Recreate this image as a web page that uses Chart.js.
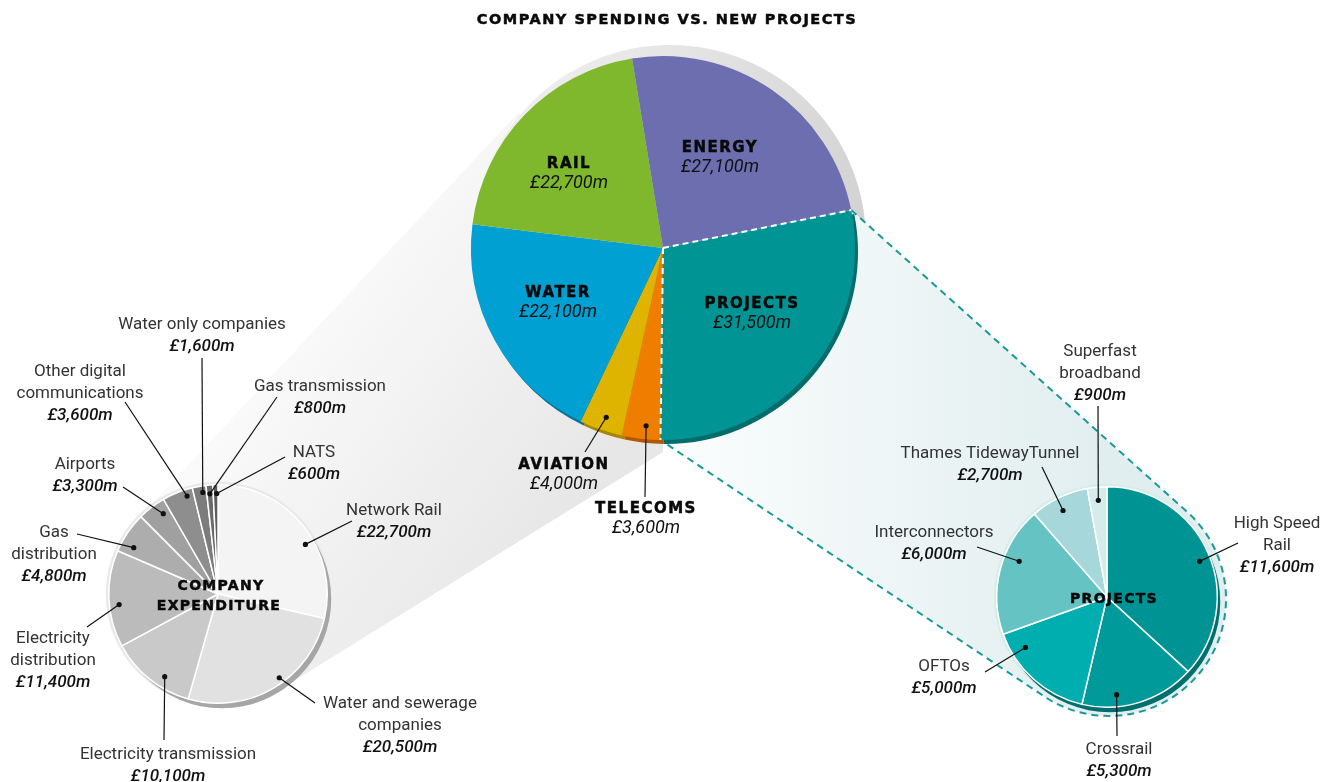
<!DOCTYPE html>
<html>
<head>
<meta charset="utf-8">
<script src="https://cdn.jsdelivr.net/npm/chart.js@4.4.1/dist/chart.umd.min.js"></script>
<style>
html, body { margin: 0; padding: 0; background: #fff; }
#stage { position: relative; width: 1337px; height: 782px; overflow: hidden; }
#stage canvas { position: absolute; left: 0; top: 0; }
.lbl { position: absolute; transform: translate(-50%, -50%); white-space: nowrap; line-height: 1;
       font-family: Roboto, "Liberation Sans", sans-serif; font-size: 17px; color: #333; }
.val { font-style: italic; font-weight: 500; color: #111; }
.cap { font-family: "DejaVu Sans", sans-serif; font-weight: bold; font-size: 15px; letter-spacing: 1.5px;
       color: #0a0a0a; -webkit-text-stroke: 0.5px #0a0a0a; }
.mval { font-style: italic; font-weight: 400; color: #111; font-size: 18px; }
</style>
</head>
<body>
<div id="stage">
  <canvas id="mainPie" width="1337" height="782"></canvas>
  <canvas id="leftPie" width="1337" height="782"></canvas>
  <canvas id="rightPie" width="1337" height="782"></canvas>
  <div id="labels"></div>
</div>
<script>
const W = 1337, H = 782;

// values, £m
const mainLabels = ['PROJECTS', 'TELECOMS', 'AVIATION', 'WATER', 'RAIL', 'ENERGY'];
const mainValues = [31500, 3600, 4000, 22100, 22700, 27100];

const companyLabels = ['Network Rail', 'Water and sewerage companies', 'Electricity transmission',
    'Electricity distribution', 'Gas distribution', 'Airports', 'Other digital communications',
    'Water only companies', 'Gas transmission', 'NATS'];
const companyValues = [22700, 20500, 10100, 11400, 4800, 3300, 3600, 1600, 800, 600];

const projectLabels = ['High Speed Rail', 'Crossrail', 'OFTOs', 'Interconnectors',
    'Thames TidewayTunnel', 'Superfast broadband'];
const projectValues = [11600, 5300, 5000, 6000, 2700, 900];

// styling
const mainColors = ['#009494', '#ee7d00', '#dfb400', '#00a0d2', '#7fb82c', '#6c6eb0'];
const mainEdge = ['#006c6c', '#b05800', '#a88500', '#0b6f96'];
const companyColors = ['#f4f4f4', '#e1e1e1', '#c9c9c9', '#bbbbbb', '#adadad', '#a0a0a0',
    '#8e8e8e', '#7c7c7c', '#6b6b6b', '#5b5b5b'];
const projectColors = ['#009393', '#009a9a', '#00adaf', '#66c3c4', '#a6d7da', '#d6ecec'];

const MAIN = { cx: 663, cy: 248, r: 192, rotation: 78.6 };
const LEFT = { cx: 218, cy: 594, r: 110, rotation: 0 };
const RIGHT = { cx: 1107, cy: 597, r: 111, rotation: 0 };

// label layout: text centre, leader dot (fraction of slice angle, fraction of radius), leader end
const mainLayout = [
    { x: 752, y: 303 },
    { x: 646, y: 508, dot: [0.4, 0.93], end: [645, 497] },
    { x: 564, y: 464, dot: [0.47, 0.93], end: [585, 452] },
    { x: 558, y: 292 },
    { x: 569, y: 163 },
    { x: 720, y: 147 },
];
const companyLayout = [
    { x: 394, y: 509, dot: [0.587, 0.92], end: [352, 521] },
    { x: 400, y: 702, br: [3], dot: [0.44, 0.95], end: [315, 703] },
    { x: 168, y: 753, dot: [0.37, 0.9], end: [164, 740] },
    { x: 53, y: 637, br: [1], dot: [0.43, 0.91], end: [87, 627] },
    { x: 54, y: 531, br: [1], dot: [0.25, 0.88], end: [77, 534] },
    { x: 85, y: 463, dot: [0.71, 0.89], end: [123, 487] },
    { x: 80, y: 370, br: [2], dot: [0.76, 0.94], end: [125, 402] },
    { x: 202, y: 323, dot: [0.7, 0.94], end: [202, 358] },
    { x: 320, y: 385, dot: [0.47, 0.92], end: [277, 397] },
    { x: 314, y: 451, dot: [0.74, 0.92], end: [285, 457] },
];
const projectLayout = [
    { x: 1277, y: 522, br: [2], dot: [0.52, 0.9], end: [1238, 543] },
    { x: 1119, y: 748, dot: [0.69, 0.89], end: [1117, 736] },
    { x: 944, y: 665, dot: [0.79, 0.87], end: [985, 672] },
    { x: 934, y: 531, dot: [0.61, 0.86], end: [977, 547] },
    { x: 990, y: 452, dot: [0.46, 0.88], end: [1042, 467] },
    { x: 1100, y: 350, br: [1], dot: [0.5, 0.88], end: [1098, 406] },
];

const fmt = v => '£' + v.toLocaleString('en-GB') + 'm';

function arcPoint(arc, f, rf) {
    const a = arc.startAngle + f * (arc.endAngle - arc.startAngle);
    return { x: arc.x + Math.cos(a) * arc.outerRadius * rf, y: arc.y + Math.sin(a) * arc.outerRadius * rf };
}

function leaders(layout) {
    return {
        id: 'leaders',
        afterDatasetsDraw(chart) {
            const ctx = chart.ctx;
            const arcs = chart.getDatasetMeta(0).data;
            ctx.save();
            ctx.strokeStyle = '#111';
            ctx.fillStyle = '#111';
            ctx.lineWidth = 1.2;
            layout.forEach((l, i) => {
                if (!l.dot) return;
                const p = arcPoint(arcs[i], l.dot[0], l.dot[1]);
                ctx.beginPath();
                ctx.moveTo(p.x, p.y);
                ctx.lineTo(l.end[0], l.end[1]);
                ctx.stroke();
                ctx.beginPath();
                ctx.arc(p.x, p.y, 2.6, 0, Math.PI * 2);
                ctx.fill();
            });
            ctx.restore();
        }
    };
}

function disc(ctx, x, y, r, fill) {
    ctx.beginPath();
    ctx.arc(x, y, r, 0, Math.PI * 2);
    ctx.fillStyle = fill;
    ctx.fill();
}

// connectors, shadow and extrusion behind the central pie
const mainBackdrop = {
    id: 'backdrop',
    beforeDatasetsDraw(chart) {
        const ctx = chart.ctx;
        const arcs = chart.getDatasetMeta(0).data;
        const c = { x: arcs[0].x, y: arcs[0].y };
        const R = arcs[0].outerRadius;
        ctx.save();

        // grey funnel towards the company pie
        const r2 = R + 6;
        const th = Math.atan2(c.y - LEFT.cy, c.x - LEFT.cx);
        const D = Math.hypot(c.x - LEFT.cx, c.y - LEFT.cy);
        const n = th - Math.acos((LEFT.r - r2) / D);
        const lu = { x: LEFT.cx + LEFT.r * Math.cos(n), y: LEFT.cy + LEFT.r * Math.sin(n) };
        const mu = { x: c.x + r2 * Math.cos(n), y: c.y + r2 * Math.sin(n) };
        const b = { x: c.x, y: c.y + R + 12 };
        const lr = LEFT.r + 4;
        const phi = Math.atan2(b.y - LEFT.cy, b.x - LEFT.cx);
        const tb = phi + Math.acos(lr / Math.hypot(b.x - LEFT.cx, b.y - LEFT.cy));
        const ll = { x: LEFT.cx + lr * Math.cos(tb), y: LEFT.cy + lr * Math.sin(tb) };
        let g = ctx.createLinearGradient(c.x - 360, c.y, c.x - 60, c.y + 220);
        g.addColorStop(0, '#fcfcfc');
        g.addColorStop(1, '#e7e7e7');
        ctx.beginPath();
        ctx.moveTo(lu.x, lu.y);
        ctx.lineTo(mu.x, mu.y);
        ctx.lineTo(c.x, c.y);
        ctx.lineTo(b.x, b.y);
        ctx.lineTo(ll.x, ll.y);
        ctx.lineTo(LEFT.cx, LEFT.cy);
        ctx.closePath();
        ctx.fillStyle = g;
        ctx.fill();

        // grey shadow of the main pie
        g = ctx.createLinearGradient(c.x - 150, c.y - 150, c.x + 190, c.y);
        g.addColorStop(0, '#efefef');
        g.addColorStop(1, '#d2d2d2');
        disc(ctx, c.x + 7, c.y - 7, R + 4, g);

        // teal funnel towards the projects pie
        const p1 = { x: c.x + R * Math.cos(arcs[0].startAngle), y: c.y + R * Math.sin(arcs[0].startAngle) };
        const p2 = { x: c.x + R * Math.cos(arcs[0].endAngle), y: c.y + R * Math.sin(arcs[0].endAngle) };
        const C2 = { x: RIGHT.cx + 2, y: RIGHT.cy + 2 };
        const R2 = RIGHT.r + 6;
        const f1 = Math.atan2(p1.y - C2.y, p1.x - C2.x);
        let t1 = f1 + Math.acos(R2 / Math.hypot(p1.x - C2.x, p1.y - C2.y));
        const f2 = Math.atan2(p2.y - C2.y, p2.x - C2.x);
        let t2 = f2 - Math.acos(R2 / Math.hypot(p2.x - C2.x, p2.y - C2.y));
        while (t2 < t1) t2 += Math.PI * 2;
        g = ctx.createLinearGradient(c.x, 0, RIGHT.cx, 0);
        g.addColorStop(0, '#fbfdfd');
        g.addColorStop(1, '#e1eeef');
        ctx.beginPath();
        ctx.moveTo(c.x, c.y);
        ctx.lineTo(p1.x, p1.y);
        ctx.arc(C2.x, C2.y, R2, t1, t2, false);
        ctx.lineTo(p2.x, p2.y);
        ctx.closePath();
        ctx.fillStyle = g;
        ctx.fill();

        ctx.beginPath();
        ctx.moveTo(p1.x, p1.y);
        ctx.arc(C2.x, C2.y, R2, t1, t2, false);
        ctx.lineTo(p2.x, p2.y);
        ctx.setLineDash([7, 5]);
        ctx.lineWidth = 2;
        ctx.strokeStyle = '#17999a';
        ctx.stroke();
        ctx.setLineDash([]);

        // darker extrusion under the lower slices
        mainEdge.forEach((col, i) => {
            const a = arcs[i];
            ctx.beginPath();
            ctx.moveTo(a.x + 3, a.y + 4);
            ctx.arc(a.x + 3, a.y + 4, a.outerRadius, a.startAngle, a.endAngle);
            ctx.closePath();
            ctx.fillStyle = col;
            ctx.fill();
        });
        ctx.restore();
    },
    afterDatasetsDraw(chart) {
        const ctx = chart.ctx;
        const a = chart.getDatasetMeta(0).data[0];
        ctx.save();
        ctx.strokeStyle = '#fff';
        ctx.lineWidth = 2;
        ctx.setLineDash([6, 4]);
        [a.startAngle, a.endAngle].forEach(t => {
            ctx.beginPath();
            ctx.moveTo(a.x, a.y);
            ctx.lineTo(a.x + a.outerRadius * Math.cos(t), a.y + a.outerRadius * Math.sin(t));
            ctx.stroke();
        });
        ctx.restore();
    }
};

function sideBackdrop(ring, shade, off) {
    return {
        id: 'sideBackdrop',
        beforeDatasetsDraw(chart) {
            const a = chart.getDatasetMeta(0).data[0];
            const ctx = chart.ctx;
            ctx.save();
            disc(ctx, a.x, a.y, a.outerRadius + 3, ring);
            disc(ctx, a.x + off[0], a.y + off[1], a.outerRadius, shade);
            ctx.restore();
        }
    };
}

function makePie(id, geo, labels, values, colors, border, plugins) {
    return new Chart(document.getElementById(id), {
        type: 'pie',
        data: {
            labels: labels,
            datasets: [{
                data: values,
                backgroundColor: colors,
                borderColor: '#ffffff',
                borderWidth: border,
                hoverOffset: 0,
            }]
        },
        options: {
            responsive: false,
            animation: false,
            events: [],
            rotation: geo.rotation,
            layout: {
                padding: {
                    left: geo.cx - geo.r, top: geo.cy - geo.r,
                    right: W - geo.cx - geo.r, bottom: H - geo.cy - geo.r
                }
            },
            plugins: {
                legend: { display: false },
                tooltip: { enabled: false },
                title: { display: false }
            }
        },
        plugins: plugins
    });
}

makePie('mainPie', MAIN, mainLabels, mainValues, mainColors, 0, [mainBackdrop, leaders(mainLayout)]);
makePie('leftPie', LEFT, companyLabels, companyValues, companyColors, 1.5,
    [sideBackdrop('#e9e9e9', '#a6a6a6', [4, 5]), leaders(companyLayout)]);
makePie('rightPie', RIGHT, projectLabels, projectValues, projectColors, 1.5,
    [sideBackdrop('#d9ecec', '#006e6e', [3, 5]), leaders(projectLayout)]);

// text
const box = document.getElementById('labels');
function addText(x, y, text, cls, style) {
    const d = document.createElement('div');
    d.className = 'lbl ' + (cls || '');
    d.style.left = x + 'px';
    d.style.top = y + 'px';
    if (style) Object.assign(d.style, style);
    d.textContent = text;
    box.appendChild(d);
}

function splitName(name, br) {
    if (!br) return [name];
    const w = name.split(' ');
    const out = [];
    let s = 0;
    br.concat([w.length]).forEach(e => { out.push(w.slice(s, e).join(' ')); s = e; });
    return out;
}

function sideLabels(labels, values, layout) {
    labels.forEach((name, i) => {
        const l = layout[i];
        const lines = splitName(name, l.br);
        lines.forEach((t, k) => addText(l.x, l.y + k * 21.5, t));
        addText(l.x, l.y + (lines.length - 1) * 21.5 + 22, fmt(values[i]), 'val');
    });
}

addText(667, 19, 'COMPANY SPENDING VS. NEW PROJECTS', 'cap', { fontSize: '14.5px', letterSpacing: '1.5px' });

mainLabels.forEach((name, i) => {
    const l = mainLayout[i];
    addText(l.x, l.y, name, 'cap');
    addText(l.x, l.y + 18.5, fmt(mainValues[i]), 'mval');
});

sideLabels(companyLabels, companyValues, companyLayout);
sideLabels(projectLabels, projectValues, projectLayout);

addText(221, 585, 'COMPANY', 'cap', { fontSize: '14px', letterSpacing: '1.3px' });
addText(219, 605, 'EXPENDITURE', 'cap', { fontSize: '14px', letterSpacing: '1.3px' });
addText(1114, 598, 'PROJECTS', 'cap', { fontSize: '14px', letterSpacing: '1.3px' });
</script>
</body>
</html>
